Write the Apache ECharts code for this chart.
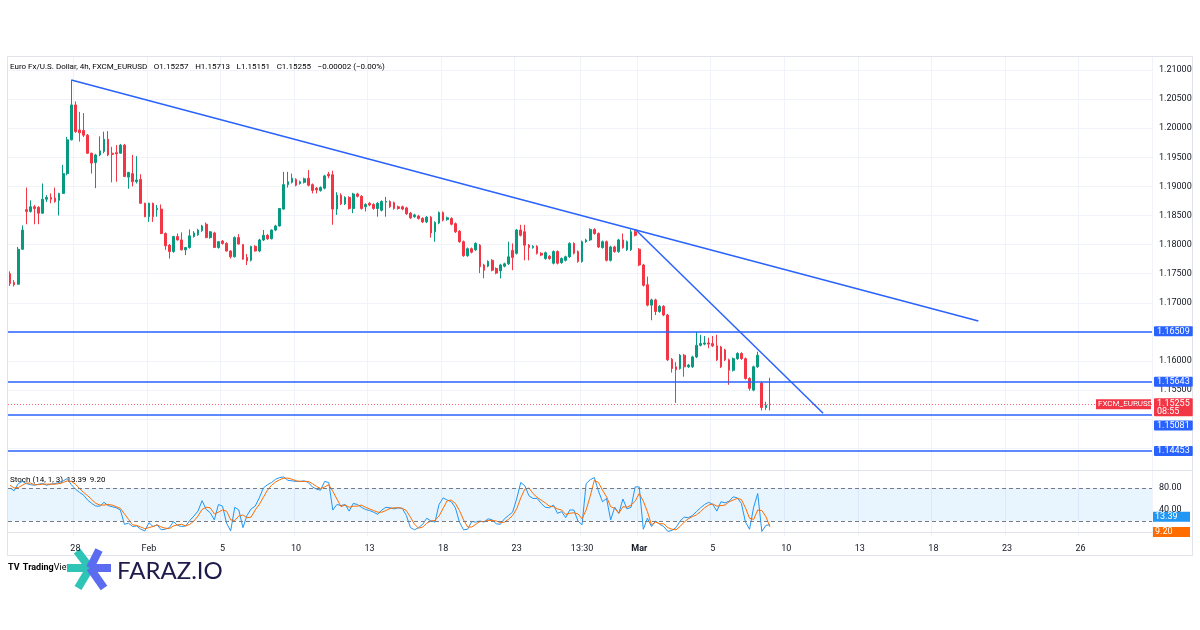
<!DOCTYPE html>
<html>
<head>
<meta charset="utf-8">
<script src="https://cdn.jsdelivr.net/npm/echarts@6/dist/echarts.min.js"></script>
<style>
  html, body { margin: 0; padding: 0; background: #fff; }
  #chart { width: 1200px; height: 630px; }
</style>
</head>
<body>
<div id="chart"></div>
<script>
// EUR/USD 4h candles, one per slot
var candleOpen = [
  1.1750,1.1735,1.1732,1.1792,1.1860,1.1857,1.1865,1.1864,1.1854,1.1878,
  1.1881,1.1880,1.1876,1.1888,1.1922,1.1980,1.2040,1.1997,1.1996,1.1988,
  1.1957,1.1941,1.1954,1.1960,1.1981,1.1957,1.1958,1.1957,1.1971,1.1916,
  1.1922,1.1908,1.1912,1.1871,1.1848,1.1871,1.1860,1.1861,1.1819,1.1799,
  1.1788,1.1814,1.1808,1.1791,1.1795,1.1814,1.1817,1.1824,1.1835,1.1812,
  1.1820,1.1795,1.1806,1.1802,1.1789,1.1779,1.1812,1.1800,1.1778,1.1773,
  1.1797,1.1789,1.1808,1.1816,1.1810,1.1825,1.1832,1.1861,1.1903,1.1907,
  1.1912,1.1905,1.1907,1.1914,1.1903,1.1897,1.1893,1.1897,1.1921,1.1920,
  1.1861,1.1885,1.1870,1.1881,1.1862,1.1887,1.1883,1.1865,1.1871,1.1869,
  1.1862,1.1859,1.1873,1.1874,1.1872,1.1865,1.1865,1.1863,1.1854,1.1848,
  1.1849,1.1845,1.1839,1.1847,1.1822,1.1837,1.1855,1.1843,1.1845,1.1836,
  1.1823,1.1805,1.1781,1.1793,1.1791,1.1799,1.1765,1.1763,1.1773,1.1759,
  1.1755,1.1763,1.1767,1.1790,1.1785,1.1825,1.1822,1.1799,1.1795,1.1797,
  1.1785,1.1776,1.1780,1.1768,1.1788,1.1769,1.1773,1.1779,1.1802,1.1788,
  1.1771,1.1805,1.1808,1.1826,1.1819,1.1795,1.1805,1.1773,1.1796,1.1788,
  1.1808,1.1791,1.1791,1.1822,1.1792,1.1765,1.1731,1.1696,1.1705,1.1685,
  1.1694,1.1679,1.1603,1.1590,1.1587,1.1610,1.1590,1.1590,1.1607,1.1627,
  1.1629,1.1631,1.1630,1.1626,1.1624,1.1619,1.1602,1.1584,1.1604,1.1613,
  1.1604,1.1570,1.1550,1.1590,1.1562,1.1520,1.15257
];
var candleClose = [
  1.1733,1.1731,1.1792,1.1825,1.1857,1.1865,1.1862,1.1854,1.1878,1.1881,
  1.1878,1.1874,1.1888,1.1922,1.1980,1.2040,1.1994,1.1992,1.1988,1.1957,
  1.1940,1.1954,1.1961,1.1981,1.1954,1.1955,1.1956,1.1971,1.1917,1.1924,
  1.1908,1.1911,1.1871,1.1848,1.1871,1.1848,1.1862,1.1819,1.1798,1.1788,
  1.1814,1.1808,1.1791,1.1795,1.1815,1.1820,1.1825,1.1832,1.1812,1.1822,
  1.1795,1.1805,1.1802,1.1789,1.1779,1.1812,1.1801,1.1775,1.1772,1.1797,
  1.1789,1.1808,1.1816,1.1810,1.1825,1.1832,1.1862,1.1903,1.1908,1.1914,
  1.1902,1.1908,1.1913,1.1902,1.1893,1.1894,1.1898,1.1918,1.1918,1.1861,
  1.1885,1.1870,1.1881,1.1862,1.1887,1.1883,1.1862,1.1869,1.1868,1.1862,
  1.1871,1.1874,1.1874,1.1865,1.1862,1.1862,1.1861,1.1853,1.1846,1.1851,
  1.1845,1.1839,1.1847,1.1820,1.1838,1.1855,1.1842,1.1846,1.1835,1.1822,
  1.1805,1.1781,1.1793,1.1787,1.1802,1.1762,1.1756,1.1771,1.1756,1.1751,
  1.1765,1.1767,1.1779,1.1778,1.1825,1.1816,1.1799,1.1795,1.1797,1.1785,
  1.1782,1.1786,1.1776,1.1788,1.1768,1.1776,1.1779,1.1802,1.1785,1.1771,
  1.1805,1.1808,1.1826,1.1819,1.1796,1.1805,1.1773,1.1796,1.1788,1.1808,
  1.1795,1.1805,1.1822,1.1816,1.1765,1.1730,1.1696,1.1705,1.1685,1.1694,
  1.1679,1.1602,1.1587,1.1585,1.1610,1.1590,1.1593,1.1607,1.1627,1.1630,
  1.1631,1.1629,1.1626,1.1602,1.1590,1.1602,1.1584,1.1604,1.1613,1.1604,
  1.1570,1.1553,1.1590,1.1610,1.1520,1.1524,1.15255
];
var candleLow = [
  1.1729,1.1728,1.1731,1.1791,1.1835,1.1855,1.1835,1.1835,1.1853,1.1873,
  1.1871,1.1872,1.1850,1.1887,1.1919,1.1979,1.1992,1.1977,1.1985,1.1956,
  1.1922,1.1897,1.1952,1.1957,1.1952,1.1907,1.1908,1.1956,1.1916,1.1896,
  1.1900,1.1905,1.1870,1.1847,1.1839,1.1839,1.1848,1.1818,1.1791,1.1776,
  1.1786,1.1807,1.1790,1.1782,1.1793,1.1812,1.1815,1.1822,1.1811,1.1810,
  1.1794,1.1793,1.1800,1.1788,1.1776,1.1778,1.1800,1.1774,1.1765,1.1771,
  1.1788,1.1787,1.1806,1.1808,1.1809,1.1823,1.1831,1.1860,1.1898,1.1905,
  1.1900,1.1903,1.1905,1.1900,1.1888,1.1888,1.1891,1.1895,1.1914,1.1834,
  1.1851,1.1868,1.1868,1.1860,1.1854,1.1881,1.1860,1.1857,1.1866,1.1860,
  1.1848,1.1857,1.1848,1.1863,1.1860,1.1860,1.1859,1.1851,1.1844,1.1846,
  1.1843,1.1837,1.1837,1.1812,1.1805,1.1835,1.1840,1.1841,1.1833,1.1820,
  1.1803,1.1779,1.1779,1.1785,1.1789,1.1751,1.1742,1.1761,1.1754,1.1749,
  1.1742,1.1761,1.1765,1.1756,1.1783,1.1814,1.1773,1.1773,1.1793,1.1783,
  1.1780,1.1774,1.1774,1.1766,1.1766,1.1767,1.1771,1.1777,1.1783,1.1769,
  1.1769,1.1803,1.1806,1.1817,1.1794,1.1793,1.1771,1.1771,1.1786,1.1786,
  1.1793,1.1789,1.1789,1.1814,1.1763,1.1728,1.1694,1.1670,1.1679,1.1683,
  1.1677,1.1600,1.1580,1.1528,1.1585,1.1573,1.1588,1.1588,1.1605,1.1625,
  1.1627,1.1622,1.1624,1.1600,1.1588,1.1600,1.1559,1.1582,1.1602,1.1602,
  1.1568,1.1549,1.1548,1.1588,1.1515,1.1516,1.15151
];
var candleHigh = [
  1.1754,1.1739,1.1796,1.1833,1.1898,1.1876,1.1868,1.1866,1.1905,1.1885,
  1.1888,1.1898,1.1889,1.1937,1.1985,1.2083,1.2046,1.2028,1.2026,1.1990,
  1.1958,1.1956,1.1986,1.1994,1.1995,1.1968,1.1971,1.1973,1.1973,1.1925,
  1.1954,1.1952,1.1921,1.1872,1.1872,1.1872,1.1868,1.1869,1.1821,1.1801,
  1.1815,1.1819,1.1821,1.1796,1.1826,1.1823,1.1827,1.1834,1.1838,1.1823,
  1.1822,1.1806,1.1808,1.1804,1.1790,1.1814,1.1818,1.1801,1.1784,1.1798,
  1.1799,1.1810,1.1825,1.1818,1.1826,1.1834,1.1863,1.1925,1.1925,1.1922,
  1.1914,1.1910,1.1915,1.1928,1.1905,1.1899,1.1900,1.1920,1.1925,1.1927,
  1.1890,1.1888,1.1883,1.1883,1.1889,1.1889,1.1885,1.1871,1.1873,1.1871,
  1.1873,1.1876,1.1882,1.1876,1.1874,1.1867,1.1867,1.1865,1.1856,1.1853,
  1.1851,1.1847,1.1849,1.1849,1.1840,1.1857,1.1857,1.1848,1.1847,1.1838,
  1.1825,1.1807,1.1795,1.1795,1.1804,1.1801,1.1767,1.1773,1.1775,1.1761,
  1.1767,1.1769,1.1805,1.1802,1.1827,1.1834,1.1834,1.1801,1.1799,1.1799,
  1.1787,1.1788,1.1782,1.1790,1.1790,1.1778,1.1781,1.1804,1.1804,1.1790,
  1.1807,1.1810,1.1828,1.1828,1.1821,1.1807,1.1807,1.1798,1.1798,1.1810,
  1.1819,1.1807,1.1826,1.1826,1.1794,1.1767,1.1745,1.1707,1.1707,1.1696,
  1.1696,1.1681,1.1605,1.1598,1.1612,1.1612,1.1595,1.1609,1.1650,1.1645,
  1.1643,1.1640,1.1643,1.1645,1.1626,1.1621,1.1604,1.1606,1.1615,1.1615,
  1.1606,1.1572,1.1592,1.1616,1.1565,1.1530,1.15713
];

// Stoch (14, 1, 3) lines
var stochK = [
  80,75,88,92,88,86,85,87,88,85, 87,88,90,93,97,86,78,72,67,58,
  52,47,47,54,48,46,44,40,14,16, 10,11,5,2,17,10,13,4,5,8,
  19,12,10,11,21,29,38,57,41,35, 22,50,47,16,2,45,40,8,30,42,
  47,62,80,86,90,96,99,100,94,93, 92,92,93,90,82,78,76,92,90,40,
  50,48,50,38,52,50,45,41,39,36, 32,40,45,44,42,44,43,30,8,4,
  8,14,25,20,18,50,62,58,55,44, 18,4,5,19,18,20,18,24,22,15,
  14,24,30,36,60,90,84,66,61,61, 52,45,44,49,34,37,26,40,40,20,
  13,88,95,99,75,55,61,22,45,34, 60,42,45,82,82,5,25,10,20,14,
  10,1,3,8,20,27,26,30,37,44, 50,54,50,38,55,53,56,64,62,52,
  18,5,45,70,1,12,13.39
];
var stochD = [
  85,80,81,85,89,89,86,86,87,87, 87,87,88,90,93,92,87,79,72,66,
  59,52,49,49,50,49,46,43,33,23, 13,12,9,6,8,10,13,9,7,6,
  11,13,14,11,14,20,29,41,45,44, 33,36,40,38,22,21,29,31,26,27,
  40,50,63,76,85,91,95,98,98,96, 93,92,92,92,88,83,79,82,86,74,
  60,46,49,45,47,47,49,45,42,39, 36,36,39,43,44,44,43,39,27,14,
  7,9,16,20,21,29,43,57,58,52, 39,22,9,9,14,19,19,21,21,20,
  17,18,23,30,42,62,78,80,70,63, 58,53,47,46,42,40,32,34,35,33,
  24,40,65,94,90,76,64,46,43,34, 46,45,49,56,70,56,37,13,18,15,
  15,8,5,4,10,18,24,28,31,37, 44,49,51,47,48,49,55,58,61,59,
  44,25,23,40,39,28,9.2
];

// horizontal levels and trend lines drawn on the chart
var levelPrices = [1.16509, 1.15643, 1.15081, 1.14453];
var trendUpper = [[15, 1.20828], [237, 1.16687]];
var trendLower = [[153, 1.18265], [199, 1.15103]];

// time scale: slot of each label and its text
var timeSlots = [16, 34, 52, 70, 88, 106, 124, 140, 154, 172, 190, 208, 226, 244, 262];
var timeLabels = ['28', 'Feb', '5', '10', '13', '18', '23', '13:30', 'Mar', '5', '10', '13', '18', '23', '26'];
// grid lines at every 0.005, labels only where the level tags leave room
var priceTicks = [1.145, 1.150, 1.155, 1.160, 1.165, 1.170, 1.175, 1.180, 1.185, 1.190, 1.195, 1.200, 1.205, 1.210];
var priceLabels = [1.155, 1.160, 1.170, 1.175, 1.180, 1.185, 1.190, 1.195, 1.200, 1.205, 1.210];
var stochTicks = [40, 80];
var slotCount = 280;

var UP = '#089981', DOWN = '#f23645', BLUE = '#2962ff';
var FONT = 'Roboto, "Noto Sans", sans-serif';

var categories = [];
for (var s = 0; s < slotCount; s++) {
  var k = timeSlots.indexOf(s);
  categories.push(k >= 0 ? timeLabels[k] : '');
}
var ohlc = candleOpen.map(function (o, i) {
  return [o, candleClose[i], candleLow[i], candleHigh[i]];
});
var last = ohlc.length - 1;
var lastClose = candleClose[last];
var lastK = stochK[stochK.length - 1];
var lastD = stochD[stochD.length - 1];
var change = lastClose - candleOpen[last];

// a level tag just under the last-price tag gets pushed down, as TradingView does
var levelLines = levelPrices.map(function (v) {
  var pushed = v < lastClose && lastClose - v < 0.002;
  return {
    yAxis: v,
    lineStyle: { color: BLUE, width: 1.5, type: 'solid' },
    label: { formatter: v.toFixed(5), backgroundColor: BLUE, lineHeight: 9, padding: [1, 3, 0, 3], offset: [0, pushed ? 11 : 0] }
  };
});
levelLines.push({
  yAxis: lastClose,
  lineStyle: { color: 'rgba(242,54,69,0.75)', width: 1, type: [1, 2] },
  label: { formatter: lastClose.toFixed(5) + '\n08:55', backgroundColor: DOWN, lineHeight: 8, padding: [1, 3, 1, 3], offset: [0, 3] }
});

var splitX = {
  show: true,
  interval: function (i, v) { return v !== ''; },
  lineStyle: { color: '#f0f3fa', width: 1 }
};

var chart = echarts.init(document.getElementById('chart'));

chart.setOption({
  animation: false,
  backgroundColor: '#ffffff',
  textStyle: { fontFamily: FONT },
  grid: [
    { left: 8, right: 48, top: 57, height: 413 },
    { left: 8, right: 48, top: 471, height: 65 }
  ],
  xAxis: [
    {
      type: 'category', gridIndex: 0, data: categories, boundaryGap: true,
      axisLine: { show: false }, axisTick: { show: false }, axisLabel: { show: false },
      splitLine: splitX
    },
    {
      type: 'category', gridIndex: 1, data: categories, boundaryGap: true,
      axisLine: { show: true, lineStyle: { color: '#e0e3eb' } },
      axisTick: { show: false },
      axisLabel: {
        interval: 0, margin: 8, fontSize: 9, color: '#131722',
        formatter: function (v) { return v === 'Mar' ? '{b|Mar}' : v; },
        rich: { b: { fontWeight: 'bold', fontSize: 9, color: '#131722' } }
      },
      splitLine: splitX
    }
  ],
  yAxis: [
    {
      type: 'value', gridIndex: 0, position: 'right',
      min: 1.141271, max: 1.212234,
      axisLine: { show: false },
      axisTick: { show: false, customValues: priceTicks },
      axisLabel: {
        customValues: priceLabels, margin: 7, fontSize: 9, color: '#131722',
        formatter: function (v) { return v.toFixed(5); }
      },
      splitLine: { show: true, lineStyle: { color: '#f0f3fa' } }
    },
    {
      type: 'value', gridIndex: 1, position: 'right',
      min: -7.27, max: 110.9,
      axisLine: { show: false },
      axisTick: { show: false, customValues: stochTicks },
      axisLabel: {
        customValues: stochTicks, margin: 7, fontSize: 9, color: '#131722',
        formatter: function (v) { return v.toFixed(2); }
      },
      splitLine: { show: false }
    }
  ],
  series: [
    {
      type: 'candlestick', xAxisIndex: 0, yAxisIndex: 0,
      data: ohlc, barWidth: 2.2,
      itemStyle: { color: UP, color0: DOWN, borderColor: UP, borderColor0: DOWN, borderWidth: 1 },
      z: 3
    },
    {
      type: 'line', xAxisIndex: 0, yAxisIndex: 0, data: trendUpper,
      symbol: 'none', lineStyle: { color: BLUE, width: 1.5 }, silent: true, z: 4,
      markLine: {
        silent: true, symbol: 'none', animation: false, precision: 5, z: 6,
        label: { position: 'end', distance: 2, color: '#fff', fontSize: 9, borderRadius: 1 },
        data: levelLines
      }
    },
    {
      type: 'line', xAxisIndex: 0, yAxisIndex: 0, data: trendLower,
      symbol: 'none', lineStyle: { color: BLUE, width: 1.5 }, silent: true, z: 4
    },
    {
      type: 'line', xAxisIndex: 1, yAxisIndex: 1, data: stochK,
      symbol: 'none', lineStyle: { color: '#2196f3', width: 1 }, silent: true,
      markArea: {
        silent: true,
        itemStyle: { color: 'rgba(33,150,243,0.1)' },
        data: [[{ yAxis: 20 }, { yAxis: 80 }]]
      },
      markLine: {
        silent: true, symbol: 'none', label: { show: false },
        lineStyle: { color: '#787b86', type: [4, 3], width: 1 },
        data: [{ yAxis: 80 }, { yAxis: 20 }]
      }
    },
    {
      type: 'line', xAxisIndex: 1, yAxisIndex: 1, data: stochD,
      symbol: 'none', lineStyle: { color: '#ff6d00', width: 1 }, silent: true
    }
  ]
});

// labels that sit on the price scales
var yPrice = chart.convertToPixel({ yAxisIndex: 0 }, lastClose);
var yK = chart.convertToPixel({ yAxisIndex: 1 }, lastK);
var yD = chart.convertToPixel({ yAxisIndex: 1 }, lastD);

function tag(x, yc, w, text, bg, size) {
  return {
    type: 'group', z: 10, children: [
      { type: 'rect', shape: { x: x, y: yc - 5, width: w, height: 10 }, style: { fill: bg } },
      { type: 'text', x: x + 2, y: yc, style: { text: text, fill: '#fff', font: (size || 9) + 'px ' + FONT, textVerticalAlign: 'middle' } }
    ]
  };
}

var red = { fontSize: 8, color: DOWN, fontFamily: FONT };
var dark = { fontSize: 8, color: '#131722', fontFamily: FONT };

chart.setOption({
  graphic: [
    { type: 'rect', z: -1, shape: { x: 7.5, y: 56.5, width: 1185, height: 499 }, style: { fill: 'none', stroke: '#e0e3eb', lineWidth: 1 } },
    { type: 'line', shape: { x1: 8, y1: 470.5, x2: 1192, y2: 470.5 }, style: { stroke: '#e0e3eb', lineWidth: 1 } },
    {
      type: 'text', x: 10, y: 67,
      style: {
        text: '{d|Euro Fx/U.S. Dollar, 4h, FXCM_EURUSD}  {d|O}{r|' + candleOpen[last].toFixed(5) +
          '}  {d|H}{r|' + candleHigh[last].toFixed(5) + '}  {d|L}{r|' + candleLow[last].toFixed(5) +
          '}  {d|C}{r|' + lastClose.toFixed(5) + '}  {r|' + (change < 0 ? '\u2212' : '+') +
          Math.abs(change).toFixed(5) + ' (' + (change < 0 ? '\u2212' : '+') +
          Math.abs(change / candleOpen[last] * 100).toFixed(2) + '%)}',
        rich: { d: dark, r: red },
        textVerticalAlign: 'middle'
      }
    },
    {
      type: 'text', x: 10, y: 480,
      style: {
        text: '{d|Stoch (14, 1, 3)} {k|' + lastK.toFixed(2) + '} {o|' + lastD.toFixed(2) + '}',
        rich: { d: dark, k: { fontSize: 8, color: '#2196f3', fontFamily: FONT }, o: { fontSize: 8, color: '#ff6d00', fontFamily: FONT } },
        textVerticalAlign: 'middle'
      }
    },
    tag(1096, yPrice, 55, 'FXCM_EURUSD', DOWN, 8),
    tag(1153, yK - 8, 37, lastK.toFixed(2), '#2196f3'),
    tag(1153, yD + 5, 37, lastD.toFixed(2), '#ff6d00'),
    // TradingView mark
    {
      type: 'text', x: 8, y: 568,
      style: { text: '{b|TV} {n|Trading}{g|View}', rich: {
        b: { fontSize: 9, fontWeight: 'bold', color: '#131722', fontFamily: FONT },
        n: { fontSize: 9, fontWeight: 'bold', color: '#131722', fontFamily: FONT },
        g: { fontSize: 9, color: '#9598a1', fontFamily: FONT }
      }, textVerticalAlign: 'middle' }
    },
    // FARAZ.IO logo
    { type: 'line', shape: { x1: 90, y1: 568, x2: 77, y2: 551 }, style: { stroke: '#2ec4b6', lineWidth: 8 } },
    { type: 'line', shape: { x1: 90, y1: 568, x2: 67, y2: 568 }, style: { stroke: '#2ec4b6', lineWidth: 8 } },
    { type: 'line', shape: { x1: 90, y1: 568, x2: 78, y2: 588 }, style: { stroke: '#2ec4b6', lineWidth: 8 } },
    { type: 'line', shape: { x1: 90, y1: 568, x2: 99, y2: 550 }, style: { stroke: '#5b6cf0', lineWidth: 8 } },
    { type: 'line', shape: { x1: 90, y1: 568, x2: 111, y2: 568 }, style: { stroke: '#5b6cf0', lineWidth: 8 } },
    { type: 'line', shape: { x1: 90, y1: 568, x2: 104, y2: 588 }, style: { stroke: '#5b6cf0', lineWidth: 8 } },
    {
      type: 'text', x: 117, y: 571,
      style: { text: 'FARAZ.IO', fill: '#1e1b4b', font: '24px Lato, "Open Sans", sans-serif', textVerticalAlign: 'middle' }
    }
  ]
});
</script>
</body>
</html>
